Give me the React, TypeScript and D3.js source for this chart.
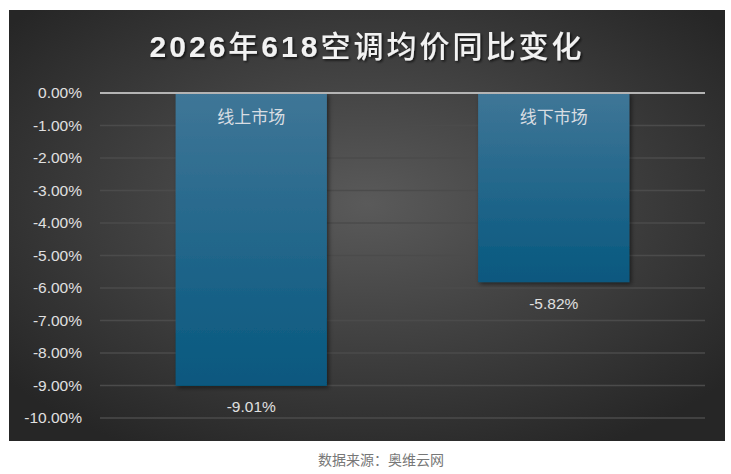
import * as d3 from "d3";

const categories = ["线上市场", "线下市场"];
const values = [-9.01, -5.82];
const yTicks = [0, -1, -2, -3, -4, -5, -6, -7, -8, -9, -10];

const W = 731;
const H = 474;
const PANEL = { x: 9, y: 10, w: 716, h: 431 };
const PLOT = { left: 100, right: 705, top: 93, bottom: 418 };

const pct = (v: number) => `${v.toFixed(2)}%`;

export default function App() {
  const x = d3
    .scaleBand<string>()
    .domain(categories)
    .range([PLOT.left, PLOT.right])
    .paddingInner(0.5)
    .paddingOuter(0.25);
  const y = d3.scaleLinear().domain([0, -10]).range([PLOT.top, PLOT.bottom]);
  const font = "'Noto Sans CJK SC', 'Liberation Sans', sans-serif";
  const numFont = "'Liberation Sans', sans-serif";

  return (
    <svg
      width={W}
      height={H}
      style={{ position: "absolute", left: 0, top: 0 }}
      fontFamily={font}
    >
      <defs>
        <radialGradient id="bg" cx="50%" cy="45%" r="65%">
          <stop offset="0%" stopColor="#5a5a5a" />
          <stop offset="100%" stopColor="#262626" />
        </radialGradient>
        <linearGradient id="bar" x1="0" y1="0" x2="0" y2="1">
          <stop offset="0%" stopColor="#3f7697" />
          <stop offset="100%" stopColor="#07587f" />
        </linearGradient>
        <filter id="shadow" x="-10%" y="-10%" width="130%" height="130%">
          <feDropShadow dx="2" dy="2" stdDeviation="2" floodColor="#000" floodOpacity="0.5" />
        </filter>
        <filter id="tshadow">
          <feDropShadow dx="1.5" dy="1.5" stdDeviation="1" floodColor="#000" floodOpacity="0.7" />
        </filter>
      </defs>
      <rect width={W} height={H} fill="#fff" />
      <rect x={PANEL.x} y={PANEL.y} width={PANEL.w} height={PANEL.h} fill="url(#bg)" />
      <text
        x={367}
        y={57}
        textAnchor="middle"
        fill="#f2f2f2"
        fontSize={30}
        letterSpacing={3}
        filter="url(#tshadow)"
      >
        <tspan fontFamily={numFont} fontWeight="bold">2026</tspan>
        <tspan fontWeight="500">年</tspan>
        <tspan fontFamily={numFont} fontWeight="bold">618</tspan>
        <tspan fontWeight="500">空调均价同比变化</tspan>
      </text>
      {yTicks.map((t) => (
        <g key={t}>
          {t !== 0 && (
            <line
              x1={PLOT.left}
              x2={PLOT.right}
              y1={y(t)}
              y2={y(t)}
              stroke="#4b4b4b"
              strokeWidth={1.5}
            />
          )}
          <text
            x={82}
            y={y(t)}
            dy="0.35em"
            textAnchor="end"
            fill="#e0e0e0"
            fontSize={15.5}
            fontFamily={numFont}
          >
            {pct(t === 0 ? 0 : t)}
          </text>
        </g>
      ))}
      {categories.map((c, i) => {
        const v = values[i];
        const bx = x(c)!;
        const bw = x.bandwidth();
        return (
          <g key={c}>
            <rect
              x={bx}
              y={y(0)}
              width={bw}
              height={y(v) - y(0)}
              fill="url(#bar)"
              filter="url(#shadow)"
            />
            <text
              x={bx + bw / 2}
              y={y(0) + 24}
              dy="0.35em"
              textAnchor="middle"
              fill="#d8dde2"
              fontSize={17}
            >
              {c}
            </text>
            <text
              x={bx + bw / 2}
              y={y(v) + 21}
              dy="0.35em"
              textAnchor="middle"
              fill="#e0e0e0"
              fontSize={15.5}
              fontFamily={numFont}
            >
              {pct(v)}
            </text>
          </g>
        );
      })}
      <line
        x1={PLOT.left}
        x2={PLOT.right}
        y1={y(0)}
        y2={y(0)}
        stroke="#b4b4b4"
        strokeWidth={2}
      />
      <text x={381} y={465} textAnchor="middle" fill="#777" fontSize={14}>
        数据来源：奥维云网
      </text>
    </svg>
  );
}
